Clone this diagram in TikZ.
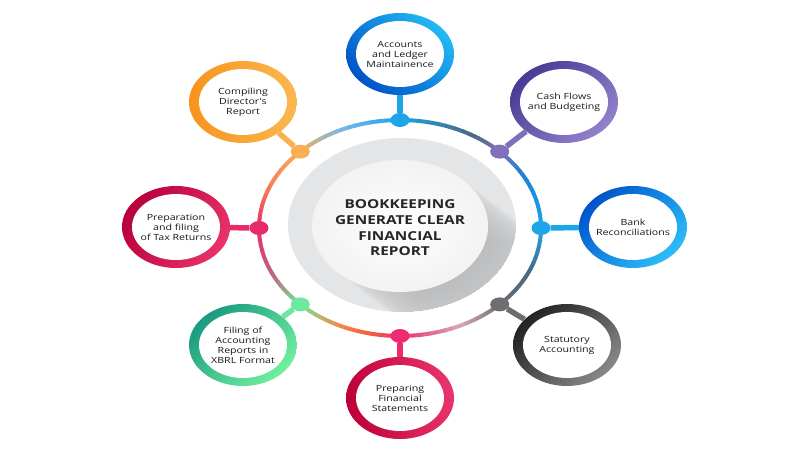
\documentclass[tikz,border=0pt]{standalone}
\usepackage{fontspec}
\setmainfont{Open Sans}
\newfontfamily\labelfont[FakeStretch=1.25]{Open Sans}
\usetikzlibrary{shapes.geometric}

% ring colours
\definecolor{rBlue}{RGB}{28,165,232}
\definecolor{rSlate}{RGB}{72,104,130}
\definecolor{rPurple}{RGB}{126,112,186}
\definecolor{rMidBlue}{RGB}{30,128,214}
\definecolor{rGrey}{RGB}{110,110,112}
\definecolor{rPale}{RGB}{214,170,182}
\definecolor{rPink}{RGB}{238,42,112}
\definecolor{rRed}{RGB}{242,84,70}
\definecolor{rOrange}{RGB}{246,136,70}
\definecolor{rGreen}{RGB}{110,232,160}
\definecolor{rMauve}{RGB}{196,96,128}
\definecolor{rRose}{RGB}{232,44,106}
\definecolor{rCoral}{RGB}{245,120,90}
\definecolor{rAmber}{RGB}{249,176,82}
\definecolor{rSky}{RGB}{120,182,232}
% satellite colours
\definecolor{accD}{RGB}{0,82,200}\definecolor{accL}{RGB}{34,186,242}
\definecolor{cashD}{RGB}{74,58,148}\definecolor{cashL}{RGB}{146,130,204}
\definecolor{bankD}{RGB}{0,84,204}\definecolor{bankL}{RGB}{44,190,248}
\definecolor{statD}{RGB}{34,34,36}\definecolor{statL}{RGB}{136,136,138}
\definecolor{prepD}{RGB}{190,0,58}\definecolor{prepL}{RGB}{232,52,108}
\definecolor{filD}{RGB}{26,154,128}\definecolor{filL}{RGB}{112,240,160}
\definecolor{taxD}{RGB}{184,0,58}\definecolor{taxL}{RGB}{232,50,106}
\definecolor{compD}{RGB}{247,147,30}\definecolor{compL}{RGB}{251,184,80}
\definecolor{hubGrey}{RGB}{228,229,231}

\begin{document}
\begin{tikzpicture}[x=1pt, y=1pt,
  ringline/.style={line width=4pt},
  dot/.style={ellipse, fill=#1, inner sep=0pt, minimum width=19pt, minimum height=14pt},
  stem/.style={line width=5.5pt, draw=#1},
  sat/.style n args={3}{ellipse, inner sep=0pt, minimum width=108pt, minimum height=82pt,
    align=center, text=black!90, font=\labelfont\fontsize{8.5}{10}\selectfont,
    path picture={
      \shade[left color=#1, right color=#2, shading angle=#3]
        (path picture bounding box.south west) rectangle (path picture bounding box.north east);
      \fill[white] (path picture bounding box.center) ellipse[x radius=44pt, y radius=33pt];}},
  hubtext/.style={align=center, text=black!85, font=\labelfont\bfseries\fontsize{12.3}{15.7}\selectfont}
]
\useasboundingbox (-400,-222) rectangle (400,228);

% Outer ring, colour changes piece by piece
\foreach \sa/\sb/\ca/\cb in {90/60/rBlue/rSlate, 60/45/rSlate/rPurple, 45/30/rPurple/rMidBlue,
    30/0/rMidBlue/rBlue, 0/-25/rBlue/rSlate, -25/-45/rSlate/rGrey, -45/-65/rGrey/rPale,
    -65/-90/rPale/rPink, -90/-100/rPink/rRed, -100/-115/rRed/rOrange, -115/-135/rOrange/rGreen,
    -135/-155/rGreen/rMauve, -155/-180/rMauve/rRose, -180/-200/rRose/rCoral,
    -200/-225/rCoral/rAmber, -225/-245/rAmber/rSky, -245/-270/rSky/rBlue} {
  \foreach \k in {0,...,7} {
    \pgfmathsetmacro\s{\sa+(\sb-\sa)*\k/8}
    \pgfmathsetmacro\e{\sa+(\sb-\sa)*(\k+1.1)/8}
    \pgfmathsetmacro\p{100-12.5*\k-6.25}
    \draw[ringline, draw=\ca!\p!\cb] (\s:141pt and 108pt)
      arc[start angle=\s, end angle=\e, x radius=141pt, y radius=108pt];
  }
}

% Hub disc with long shadow
\fill[hubGrey] (2,3) ellipse[x radius=114pt, y radius=87pt];
\begin{scope}
  \clip (2,3) ellipse[x radius=114pt, y radius=87pt];
  \foreach \k in {1,...,40}
    \fill[black, opacity=0.004] ({2.62*\k}, {2-2*\k}) ellipse[x radius=88pt, y radius=66pt];
\end{scope}
\shade[inner color=white, outer color=black!5] (0,2) ellipse[x radius=88pt, y radius=66pt];
\node[hubtext] (hub) at (0,0) {BOOKKEEPING\\GENERATE CLEAR\\FINANCIAL\\REPORT};

% Satellites
\foreach \n/\pos/\dk/\lt/\ang/\txt in {
    acc/{(0,174)}/accD/accL/135/{Accounts\\and Ledger\\Maintainence},
    cash/{(164,126)}/cashD/cashL/45/{Cash Flows\\and Budgeting},
    bank/{(233,1)}/bankD/bankL/45/{Bank\\Reconciliations},
    stat/{(167,-117)}/statD/statL/45/{Statutory\\Accounting},
    prep/{(0,-170)}/prepD/prepL/100/{Preparing\\Financial\\Statements},
    fil/{(-157,-117)}/filD/filL/45/{Filing of\\Accounting\\Reports in\\XBRL Format},
    tax/{(-224,1)}/taxD/taxL/60/{Preparation\\and filing\\of Tax Returns},
    comp/{(-157,126)}/compD/compL/90/{Compiling\\Director's\\Report}}
  \node[sat={\dk}{\lt}{\ang}] (s\n) at \pos {\txt};

% Dots on the ring and stems out to the satellites
\foreach \n/\a/\c in {acc/90/rBlue, cash/45/rPurple, bank/0/rBlue, stat/-45/rGrey,
    prep/-90/rPink, fil/-135/rGreen, tax/180/rRose, comp/135/rAmber} {
  \node[dot=\c] (d\n) at (\a:141pt and 108pt) {};
  \draw[stem=\c] (d\n) -- (s\n);
}
\end{tikzpicture}
\end{document}
